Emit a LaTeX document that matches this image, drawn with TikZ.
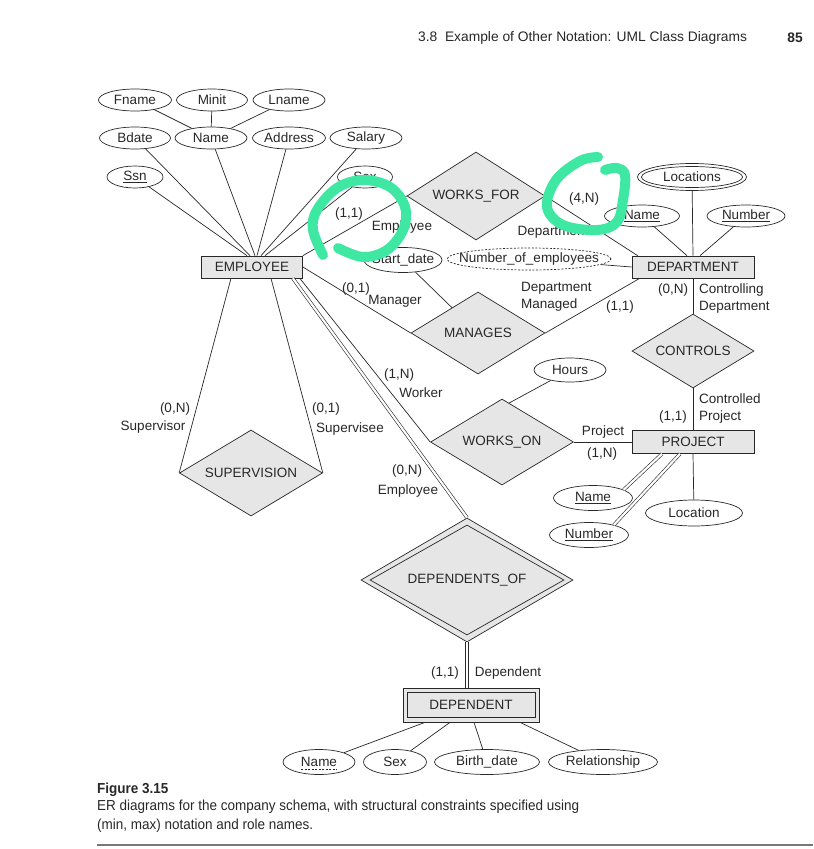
\documentclass[tikz,border=0pt]{standalone}
\usepackage{fontspec}
\setmainfont{Liberation Sans}
\newfontfamily\condfont[FakeStretch=0.93]{Liberation Sans}
\usetikzlibrary{shapes.geometric,calc}
\definecolor{ink}{RGB}{40,40,40}
\definecolor{boxfill}{RGB}{230,230,230}
\definecolor{mint}{RGB}{62,232,162}
\definecolor{rulegray}{RGB}{120,120,120}
\begin{document}
\begin{tikzpicture}[x=1pt,y=-1pt,
  every node/.style={font=\fontsize{13.5}{15}\selectfont, text=ink},
  attr/.style={ellipse, draw=ink, fill=white, inner sep=0pt, line width=0.7pt, minimum height=22pt},
  ent/.style={rectangle, draw=ink, fill=boxfill, inner sep=0pt, line width=0.7pt, minimum height=22pt},
  rel/.style={diamond, aspect=1.6, draw=ink, fill=boxfill, inner sep=0pt, line width=0.7pt},
  lbl/.style={inner sep=0pt},
  conn/.style={draw=ink, line width=0.7pt},
  dbl/.style={draw=ink, double=white, double distance=2.2pt, line width=0.6pt},
  hl/.style={draw=mint, line width=10pt, line cap=round, line join=round}
]
\fill[white] (0,0) rectangle (813,849);

% ---------- header ----------
\node[lbl, anchor=west, font=\fontsize{13.8}{15}\selectfont] (hdr) at (418,38) {3.8\ \ Example of Other Notation: UML Class Diagrams};
\node[lbl, font=\fontsize{13.8}{15}\selectfont] (pg) at (795,38) {\bfseries 85};

% ---------- entities ----------
\node[ent, minimum width=101pt] (emp) at (252,267) {EMPLOYEE};
\node[ent, minimum width=122pt] (dept) at (693,267) {DEPARTMENT};
\node[ent, minimum width=122pt, minimum height=23pt] (proj) at (693,442) {PROJECT};
\node[ent, minimum width=136pt, minimum height=34pt] (dep) at (471,705) {};
\node[ent, minimum width=128pt, minimum height=25pt] (depin) at (471,705) {DEPENDENT};

% ---------- relationships ----------
\node[rel, minimum width=138pt, minimum height=88pt] (wf) at (476,196) {WORKS\_FOR};
\node[rel, minimum width=134pt, minimum height=82pt] (mg) at (478,333) {MANAGES};
\node[rel, minimum width=122pt, minimum height=74pt] (ctrl) at (693,351) {CONTROLS};
\node[rel, minimum width=143pt, minimum height=86pt] (wo) at (502,442) {WORKS\_ON};
\node[rel, minimum width=143pt, minimum height=86pt] (sup) at (251,473) {SUPERVISION};
\node[rel, minimum width=212pt, minimum height=124pt] (dof) at (467,580) {};
\node[rel, minimum width=194pt, minimum height=110pt] (dofin) at (467,580) {DEPENDENTS\_OF};

% ---------- attributes ----------
\node[attr, minimum width=73pt] (fname) at (135,100) {Fname};
\node[attr, minimum width=71pt] (minit) at (212,100) {Minit};
\node[attr, minimum width=72pt] (lname) at (289,100) {Lname};
\node[attr, minimum width=71pt] (bdate) at (135,138) {Bdate};
\node[attr, minimum width=72pt] (ename) at (211,138) {Name};
\node[attr, minimum width=73pt] (addr) at (289,138) {Address};
\node[attr, minimum width=72pt] (sal) at (366,138) {Salary};
\node[attr, minimum width=56pt] (ssn) at (135,177) {\underline{Ssn}};
\node[attr, minimum width=55pt] (esex) at (365,177) {Sex};
\node[attr, minimum width=78pt, minimum height=25pt] (sd) at (403,260) {\makebox[0pt]{Start\_date}};
\node[attr, minimum width=164pt, dash pattern=on 2pt off 1.6pt] (noe) at (529,259) {\makebox[0pt]{Number\_of\_employees}};
\node[attr, minimum width=109pt, minimum height=27pt] (locs) at (692,177) {};
\node[attr, minimum width=101pt, minimum height=21pt] (locsin) at (692,177) {\makebox[0pt]{Locations}};
\node[attr, minimum width=75pt] (dname) at (642,216) {\underline{Name}};
\node[attr, minimum width=78pt] (dnum) at (746,216) {\underline{Number}};
\node[attr, minimum width=72pt, minimum height=24pt] (hours) at (570,370) {Hours};
\node[attr, minimum width=79pt, minimum height=25pt] (pname) at (593,498) {\underline{Name}};
\node[attr, minimum width=79pt, minimum height=25pt] (pnum) at (589,535) {\underline{Number}};
\node[attr, minimum width=97pt, minimum height=26pt] (ploc) at (694,513) {Location};
\node[attr, minimum width=72pt, minimum height=25pt] (dpname) at (319,762) {Name};
\draw[ink, dash pattern=on 2pt off 1.5pt, line width=0.6pt] ($(dpname.center)+(-18,7)$) -- ($(dpname.center)+(18,7)$);
\node[attr, minimum width=63pt, minimum height=25pt] (dpsex) at (395,762) {Sex};
\node[attr, minimum width=105pt, minimum height=25pt] (dpbd) at (487,762) {\makebox[0pt]{Birth\_date}};
\node[attr, minimum width=109pt, minimum height=25pt] (dprel) at (603,762) {\makebox[0pt]{Relationship}};

% ---------- attribute connectors ----------
\draw[conn] (fname) -- (ename);
\draw[conn] (minit) -- (ename);
\draw[conn] (lname) -- (ename);
\draw[conn] (ssn) -- ([xshift=-5pt]emp.north);
\draw[conn] (bdate) -- ([xshift=-2pt]emp.north);
\draw[conn] (ename) -- ([xshift=3pt]emp.north);
\draw[conn] (addr) -- ([xshift=5pt]emp.north);
\draw[conn] (sal) -- ([xshift=9pt]emp.north);
\draw[conn] (esex) -- ([xshift=13pt]emp.north);
\draw[conn] (locs) -- (dept.north);
\draw[conn] (dname) -- ([xshift=-6pt]dept.north);
\draw[conn] (dnum) -- ([xshift=7pt]dept.north);
\draw[conn] (noe) -- (dept.west);
\draw[conn] (sd) -- (mg);
\draw[conn] (hours) -- ($(wo.north)!0.1!(wo.east)$);
\draw[conn] (proj.south) -- (ploc);
\draw[dbl] ([xshift=-31pt]proj.south) -- (pname.15);
\draw[dbl] ([xshift=-13pt]proj.south) -- (pnum.22);
\draw[conn] ([xshift=-46pt]dep.south) -- (dpname);
\draw[conn] ([xshift=-21pt]dep.south) -- (dpsex);
\draw[conn] ([xshift=3pt]dep.south) -- (dpbd);
\draw[conn] ([xshift=49pt]dep.south) -- (dprel);

% ---------- relationship connectors ----------
\draw[conn] (emp.north east) -- (wf.west);
\draw[conn] (wf.east) -- ([xshift=6pt]dept.north west);
\draw[conn] (emp.east) -- (mg.west);
\draw[conn] (mg.east) -- ([xshift=8pt]dept.south west);
\draw[conn] (dept.south) -- (ctrl.north);
\draw[conn] (ctrl.south) -- (proj.north);
\draw[conn] (wo.east) -- (proj.west);
\draw[conn] ([xshift=-3pt]emp.south east) -- (wo.west);
\draw[dbl] ([xshift=-10pt]emp.south east) -- (dof.north);
\draw[dbl] (dof.south) -- (dof.south |- dep.north);
\draw[conn] ([xshift=-21pt]emp.south) -- (sup.west);
\draw[conn] ([xshift=19pt]emp.south) -- (sup.east);

% ---------- role names and constraints ----------
\node[lbl] (c1) at (349,214) {(1,1)};
\node[lbl] (r1) at (402,227) {Employee};
\node[lbl] (c2) at (584,199) {(4,N)};
\node[lbl] (r2) at (553,232) {Department};
\node[lbl] (c3) at (356,289) {(0,1)};
\node[lbl] (r3) at (395,301) {Manager};
\node[lbl, anchor=west] (r4a) at (521,288) {Department};
\node[lbl, anchor=west] (r4b) at (521,305) {Managed};
\node[lbl] (c4) at (620,307) {(1,1)};
\node[lbl] (c5) at (673,290) {(0,N)};
\node[lbl, anchor=west] (r5a) at (699,290) {Controlling};
\node[lbl, anchor=west] (r5b) at (699,307) {Department};
\node[lbl, anchor=west] (r6a) at (699,399) {Controlled};
\node[lbl, anchor=west] (r6b) at (699,417) {Project};
\node[lbl] (c6) at (673,417) {(1,1)};
\node[lbl] (r7) at (603,432) {Project};
\node[lbl] (c7) at (602,454) {(1,N)};
\node[lbl] (c8) at (399,375) {(1,N)};
\node[lbl] (r8) at (421,393) {Worker};
\node[lbl] (c9) at (175,409) {(0,N)};
\node[lbl] (r9) at (153,427) {Supervisor};
\node[lbl] (c10) at (326,409) {(0,1)};
\node[lbl] (r10) at (350,429) {Supervisee};
\node[lbl] (c11) at (407,471) {(0,N)};
\node[lbl] (r11) at (408,491) {Employee};
\node[lbl] (c12) at (445,673) {(1,1)};
\node[lbl] (r12) at (508,673) {Dependent};

% ---------- caption ----------
\node[lbl, anchor=west, font=\fontsize{14.5}{16}\selectfont] (figno) at (97,790) {\condfont\bfseries Figure 3.15};
\node[lbl, anchor=west, font=\fontsize{14.5}{16}\selectfont] (cap1) at (97,807) {\condfont ER diagrams for the company schema, with structural constraints specified using};
\node[lbl, anchor=west, font=\fontsize{14.5}{16}\selectfont] (cap2) at (97,826) {\condfont (min, max) notation and role names.};
\draw[rulegray, line width=1.6pt] (97,845) -- (813,845);

% ---------- green hand-drawn highlights ----------
\draw[hl] plot[smooth, tension=0.6] coordinates {(323,255) (313,230) (317,210) (337,188) (363,180) (390,187) (405,207) (403,230) (387,250) (363,257) (338,248)};
\draw[hl] plot[smooth, tension=0.6] coordinates {(598,157) (580,161) (556,180) (547,207) (563,225) (597,230) (617,222) (623,200) (625,175) (617,168) (605,170)};
\end{tikzpicture}
\end{document}
